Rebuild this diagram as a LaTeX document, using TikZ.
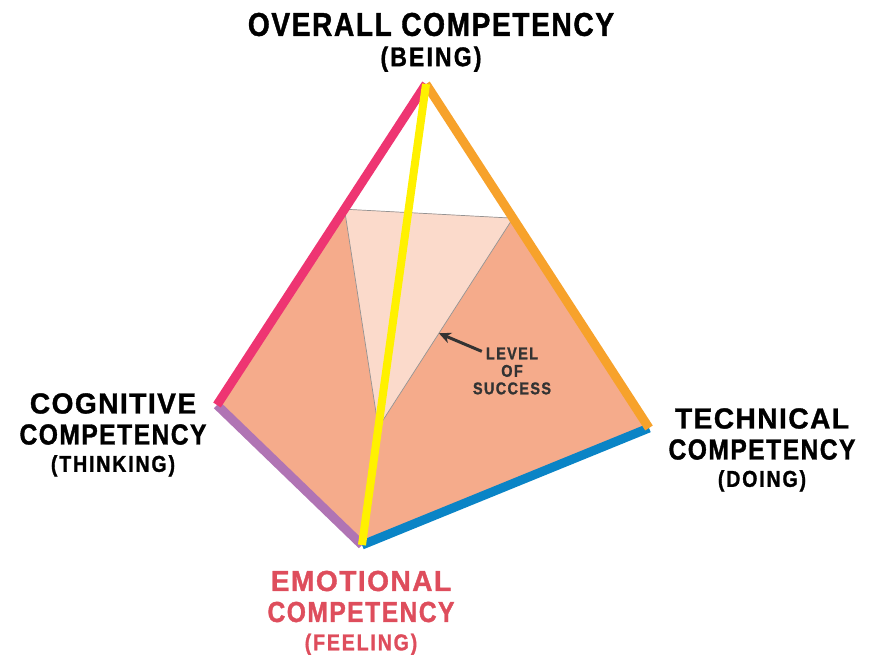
\documentclass[tikz,border=0pt]{standalone}
\usepackage{fontspec}
\usepackage{tikz}
\usepackage{xcolor}
\usetikzlibrary{positioning,calc,arrows.meta}
\newfontfamily\titlefont{Liberation Sans}[FakeStretch=0.85, LetterSpace=5, BoldFeatures={FakeBold=1.2}]
\newfontfamily\widefont{Liberation Sans}[FakeStretch=0.97, LetterSpace=5, BoldFeatures={FakeBold=1.2}]
\newfontfamily\subfont{Liberation Sans}[FakeStretch=0.85, LetterSpace=8, BoldFeatures={FakeBold=1.2}]
\definecolor{salmon}{HTML}{F5AB8B}
\definecolor{blush}{HTML}{FBDACB}
\definecolor{rimred}{HTML}{EE3572}
\definecolor{rimorange}{HTML}{F7A22B}
\definecolor{rimpurple}{HTML}{B074B4}
\definecolor{rimblue}{HTML}{0A84C6}
\definecolor{sunyellow}{HTML}{FFF100}
\definecolor{feelred}{HTML}{DE4D5C}
\definecolor{notegray}{HTML}{333333}
\tikzset{
    face-fill/.style = {fill=salmon, draw=none},
    level-face/.style = {fill=blush, draw=gray!85, line width=0.7pt, line join=round},
    rim/.style = {line width=9pt},
    axis-line/.style = {draw=sunyellow, line width=8pt},
    corner-title/.style = {font=\titlefont\bfseries\fontsize{29}{31}\selectfont, align=center, inner sep=0pt},
    corner-sub/.style = {font=\subfont\bfseries\fontsize{23}{25}\selectfont, inner sep=0pt},
    level-note/.style = {font=\subfont\bfseries\fontsize{17}{17.5}\selectfont, align=center, inner sep=0pt, text=notegray},
    pointer/.style = {-{Stealth[length=12pt,width=11pt]}, line width=3pt, draw=notegray},
}

\begin{document}
\begin{tikzpicture}[x=1pt, y=-1pt]
\useasboundingbox (0,0) rectangle (876,654);
% corners of the pyramid
\coordinate (top) at (426,84);
\coordinate (cog) at (217,405);
\coordinate (emo) at (362,545);
\coordinate (tec) at (649,428);
% level of success cut
\coordinate (lvl-left) at ($(top)!0.39!(cog)$);
\coordinate (lvl-right) at ($(top)!0.39!(tec)$);
\coordinate (lvl-low) at ($(top)!0.745!(emo)$);
\coordinate (lvl-mark) at ($(lvl-right)!0.55!(lvl-low)$);

\fill[face-fill] (cog) -- (lvl-left) -- (lvl-right) -- (tec) -- (emo) -- cycle;
\draw[level-face] (lvl-left) -- (lvl-right) -- (lvl-low) -- cycle;

% edges
\draw[rim, draw=rimpurple] (cog) -- (emo);
\draw[rim, draw=rimblue] (emo) -- (tec);
\draw[rim, draw=rimred] (top) -- (cog);
\draw[rim, draw=rimorange] (top) -- (tec);
\draw[axis-line] (top) -- (emo);

% labels
\node[corner-title, font=\titlefont\bfseries\fontsize{33}{35}\selectfont] (overall) at (431,24.5) {OVERALL COMPETENCY};
\node[corner-sub, font=\subfont\bfseries\fontsize{27}{29}\selectfont, below=10pt of overall] (being) {(BEING)};
\node[corner-title] (cognitive) at (113,419) {{\widefont COGNITIVE}\\COMPETENCY};
\node[corner-sub, below=10pt of cognitive] (thinking) {(THINKING)};
\node[corner-title] (technical) at (762,434) {{\widefont TECHNICAL}\\COMPETENCY};
\node[corner-sub, below=10pt of technical] (doing) {(DOING)};
\node[corner-title, text=feelred] (emotional) at (361,596.5) {{\widefont EMOTIONAL}\\COMPETENCY};
\node[corner-sub, text=feelred, below=11pt of emotional] (feeling) {(FEELING)};

\node[level-note] (success) at (512,371) {LEVEL\\OF\\SUCCESS};
\draw[pointer] ($(success.north west)+(9,4)$) -- (lvl-mark);
\end{tikzpicture}
\end{document}
